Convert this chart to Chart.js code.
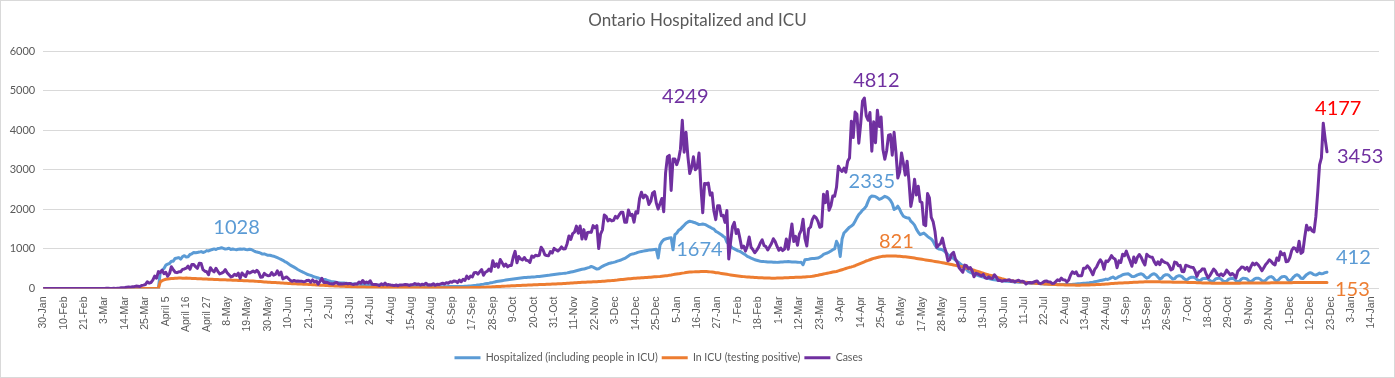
<!DOCTYPE html>
<html>
<head>
<meta charset="utf-8">
<script src="https://cdn.jsdelivr.net/npm/chart.js@4.4.1/dist/chart.umd.min.js"></script>
<style>
html,body{margin:0;padding:0;background:#fff;}
#wrap{width:1395px;height:378px;position:relative;}
canvas{display:block;}
</style>
</head>
<body>
<div id="wrap"><canvas id="c" width="1395" height="378"></canvas></div>
<script>
// Day 0 = 30-Jan-2020, one value per day, last day = 21-Dec-2021 (day 691)
const tickLabels = ["30-Jan","10-Feb","21-Feb","3-Mar","14-Mar","25-Mar","April 5","April 16","April 27","8-May","19-May","30-May","10-Jun","21-Jun","2-Jul","13-Jul","24-Jul","4-Aug","15-Aug","26-Aug","6-Sep","17-Sep","28-Sep","9-Oct","20-Oct","31-Oct","11-Nov","22-Nov","3-Dec","14-Dec","25-Dec","5-Jan","16-Jan","27-Jan","7-Feb","18-Feb","1-Mar","12-Mar","23-Mar","3-Apr","14-Apr","25-Apr","6-May","17-May","28-May","8-Jun","19-Jun","30-Jun","11-Jul","22-Jul","2-Aug","13-Aug","24-Aug","4-Sep","15-Sep","26-Sep","7-Oct","18-Oct","29-Oct","9-Nov","20-Nov","1-Dec","12-Dec","23-Dec","3-Jan","14-Jan"];

const seriesNames = ["Hospitalized (including people in ICU)", "In ICU (testing positive)", "Cases"];

const cases = [
0,0,0,0,0,0,0,0,0,0, 0,0,0,0,0,0,0,0,0,0, 0,0,0,0,0,0,1,0,1,1, 0,
3,2,1,4,6,2,3,5,2,4, 5,17,20,24,32,41,35,44,46,62, 59,48,78,85,100,170,135,151,211,313,260,
426,401,462,375,408,309,379,550,478,411, 401,421,424,483,494,514,565,485,606,606, 551,510,640,634,476,437,424,347,525,459,
421,511,434,370,387,412,477,399,346,294, 308,361,329,388,258,391,340,304,427,390, 413,441,412,460,404,287,292,383,344,323,326,
404,338,356,446,344,415,243,270,292,251, 203,182,203,184,190,181,184,173,178,204, 206,161,216,163,189,111,178,257,154,157,
153,124,121,111,138,154,112,118,116,118, 130,116,129,111,102,116,111,164,135,203, 135,165,138,195,108,104,103,91,76,119,89,
134,88,99,87,83,73,88,70,89,90, 93,102,95,78,95,101,125,102,115,88, 108,97,134,90,95,91,120,82,106,99,117,
132,114,148,132,169,158,190,185,149,213, 170,232,204,313,251,315,293,401,407,365, 425,478,335,409,435,491,435,700,554,625,
538,732,653,566,615,548,580,583,797,939, 649,807,746,721,783,712,704,658,821,790, 841,826,841,1042,978,851,834,827,934,896,1015,
977,948,987,1050,998,1003,1132,1328,1242,1388, 1426,1575,1396,1581,1248,1487,1249,1417,1423,1418, 1588,1534,1589,1009,1373,1478,1855,1822,1708,1746,
1707,1723,1824,1780,1859,1924,1925,1676,1676,1983, 1848,1873,1677,1940,1904,2275,2432,2290,2357,2316, 2123,2202,2408,2447,2159,2005,2142,2275,1939,2923,3328,
3363,2476,3270,3270,3128,3266,3519,4249,3443,3945, 3338,2903,3056,3326,2998,3056,3422,2578,1913,2655, 2632,2662,2359,2417,1958,1740,2093,2093,1837,1848,1670,
1969,745,1172,1563,1670,1388,1489,1265,1022,1072, 945,1076,1300,1042,981,904,964,1038,1150,1228, 1087,1058,975,1054,1138,1258,1185,1062,
966,1023,958,994,1250,990,1299,1631,1185,1316, 1092,1371,1468,1747,1268,1074,1508,1553,1745,1829, 1791,1699,1546,1571,2380,2169,2453,1977,2094,2336,2333,
2557,3089,3009,2958,3041,2938,3215,3295,4227,3813, 4456,4401,3670,4156,4736,4812,4362,4250,4447,3469, 4212,3682,4505,4094,4331,3510,3265,3480,3871,3887,
3369,3947,3436,2791,2941,3424,3166,2864,3216,2716, 2073,2320,2759,2362,2584,2199,2170,1616,1588,2400, 2290,1794,1691,1446,1039,1095,1135,1273,1057,916,699,
733,870,914,744,663,525,469,411,590,574, 502,530,447,296,384,370,345,318,355,270, 255,296,256,255,346,287,200,210,184,200,
200,209,220,184,194,164,194,210,179,186, 166,114,146,153,143,159,176,192,130,127, 150,185,192,170,167,129,132,172,218,196,260,
218,213,164,213,340,423,378,422,325,321, 324,513,510,574,525,440,348,485,545,650, 727,655,486,694,678,740,832,769,738,525,700,
656,865,827,944,810,694,563,797,654,795, 859,786,677,593,864,821,795,787,679,600, 677,604,727,677,653,640,577,470,495,668,
653,577,584,429,426,587,573,553,536,529, 442,306,414,443,496,491,362,271,328,413, 492,442,356,326,370,326,373,463,404,343,378,
340,267,438,482,541,539,482,535,441,551, 642,598,641,599,530,447,525,607,658,727, 683,627,594,769,711,927,855,887,676,687,
780,959,1031,1009,928,1195,887,928,1290,1600, 1476,1536,1453,1429,1808,2421,3124,3301,4177,3784,3453
];

const hospitalized = [
0,0,0,0,0,0,0,0,0,0, 0,0,0,0,0,0,0,0,0,0, 0,0,0,0,0,0,0,0,0,0, 0,0,0,0,0,0,0,0,0,0, 0,0,0,0,0,0,0,0,0,0, 0,0,0,0,0,0,0,0,0,0, 0,0,0,
405,462,506,589,614,632,691,690,760,
769,781,743,807,828,794,803,859,877,910,
902,911,920,932,910,925,957,948,970,986,
1000,986,1010,1018,1028,1014,995,1003,1017,987,
1000,989,980,993,999,990,1001,985,977,994,986,
960,933,920,911,892,869,875,858,837,840,
826,817,800,780,758,735,712,680,660,625,
590,565,540,510,480,455,430,410,385,361,
345,330,310,295,280,265,250,235,230,225,
200,190,180,172,165,155,148,142,140,138,
130,127,125,118,114,112,108,105,102,100,
96,95,92,90,88,86,84,82,80,78,77,
75,73,71,70,68,66,65,63,62,60,58,
57,56,55,54,53,52,51,50,49,48,
47,46,46,45,45,44,44,45,45,46,
46,47,47,48,48,49,49,50,50,51,51,
50,55,58,62,66,71,76,80,88,95,
104,110,118,127,135,146,154,164,177,
185,192,198,205,212,220,226,233,240,246,
252,258,264,270,275,280,285,287,290,292,
296,302,306,310,315,320,326,332,340,346,352,
358,364,370,376,382,388,395,405,415,425,
435,448,460,473,485,490,505,520,535,557,
540,515,490,500,530,560,585,605,625,640,
650,660,672,690,705,720,742,760,790,820,855,
870,880,895,913,925,935,945,955,962,970,
975,980,985,990,770,1100,1180,1234,1250,1265,
1276,1280,980,1360,1400,1470,1500,1550,1600,1650,
1680,1700,1690,1674,1660,1640,1615,1620,1630,1620,
1600,1572,1550,1520,1500,1445,1420,1390,1360,1320,1290,
1167,1120,1070,1023,1000,975,950,938,910,880,
850,811,790,770,750,727,715,700,690,685,
680,678,672,670,668,665,662,660,665,670,
672,675,678,680,676,672,670,668,665,660,662,
600,727,735,740,750,755,760,765,770,790,
820,860,880,896,920,950,980,1000,
1192,1100,811,1250,1403,1450,1500,1550,1580,1615,
1700,1790,1868,1920,1980,2020,2080,2200,2300,2335,
2333,2320,2290,2250,2270,2300,2330,2310,2280,2230,
2150,1995,2020,2080,2000,1900,1826,1800,1784,1784,
1700,1657,1600,1500,1420,1360,1380,1400,1360,1318,
1280,1250,1192,1100,1023,1000,990,980,950,900,854,
820,790,760,720,685,650,610,570,530,480,
431,410,390,370,347,330,315,304,290,275,
260,250,237,228,220,212,205,200,194,190,
186,182,178,174,170,167,164,160,158,155,152,
150,145,140,135,132,130,128,125,120,118,
116,114,112,110,108,106,104,103,102,101,
100,100,101,102,104,106,110,115,118,122,
126,130,135,140,145,152,160,170,180,190,
200,210,220,237,230,250,275,290,
250,270,300,320,347,360,368,
372,340,305,300,320,345,360,
372,350,300,260,280,330,360,
372,345,290,240,260,320,345,
350,330,280,240,250,300,320,
320,300,250,220,230,270,285,
287,270,230,200,210,245,255,
260,245,200,175,190,240,255,
262,240,190,170,185,235,250,
260,245,195,170,190,240,262,
255,240,190,170,200,245,262,
262,240,195,180,210,260,290,
300,275,215,190,220,270,300,
305,285,220,185,230,290,330,
347,320,260,250,300,350,380,
400,380,350,340,360,390,370,
380,400,412
];

const icu = [
0,0,0,0,0,0,0,0,0,0, 0,0,0,0,0,0,0,0,0,0, 0,0,0,0,0,0,0,0,0,0, 0,0,0,0,0,0,0,0,0,0, 0,0,0,0,0,0,0,0,0,0, 0,0,0,0,0,0,0,0,0,0, 0,0,0,
167,196,216,234,240,247,253,255,260,262,
264,263,261,262,265,260,262,255,252,250,
248,247,245,243,240,238,236,234,232,230,
228,226,224,222,220,218,216,214,212,210,
208,206,204,202,200,198,196,194,192,190,
187,184,180,177,174,170,167,164,160,157,
154,152,150,147,144,141,138,135,132,129,
126,123,120,117,115,113,111,109,108,106,
103,100,97,94,91,88,85,82,79,76,
74,72,70,67,64,62,60,58,56,54,
52,50,48,46,44,42,40,38,37,36,
35,34,33,32,31,30,30,29,29,28,28,
28,27,27,26,26,25,25,25,24,24,24,
23,23,23,22,22,22,21,21,21,20,
20,20,19,19,19,18,18,18,18,18,
18,18,18,18,18,18,19,19,19,20,20,
20,21,21,22,23,24,25,26,27,28,
29,31,33,35,38,40,42,45,48,
50,52,55,58,60,62,65,68,70,72,
74,76,78,80,82,84,86,88,90,92,
94,96,98,100,102,104,106,108,110,112,114,
116,118,120,122,125,128,130,133,136,140,
143,146,149,152,155,158,160,162,164,166,
168,170,172,175,178,182,186,190,194,198,
200,205,210,214,220,225,230,236,240,245,248,
252,256,260,263,266,270,272,275,278,282,
286,290,294,298,300,304,310,315,320,325,
333,340,350,360,365,370,380,388,395,405,
410,414,418,420,422,424,426,428,430,430,
428,425,420,415,408,400,395,389,380,372,365,
358,350,342,335,328,322,316,310,305,300,
295,292,290,287,284,280,277,274,272,270,
268,266,264,263,262,262,262,263,264,266,
268,270,272,274,276,278,280,282,284,286,287,
290,293,296,300,304,310,318,326,335,346,
355,365,375,385,395,405,415,425,
431,445,460,475,490,505,520,535,545,558,
575,595,615,635,655,675,695,710,727,745,
760,772,785,795,805,812,815,818,820,821,
821,820,819,817,815,810,805,800,795,790,
782,775,768,760,752,745,738,730,722,715,
708,700,692,684,676,668,660,652,642,633,624,
615,605,595,585,575,565,558,545,532,519,
505,490,476,462,446,431,416,400,385,370,
355,340,330,321,305,290,275,260,245,232,
220,212,205,198,192,186,180,175,170,165,160,
155,150,145,140,136,132,128,124,121,118,
115,112,109,106,103,100,98,96,94,93,
92,91,90,89,88,87,86,85,85,85,
86,87,88,89,90,92,94,96,98,101,
104,107,110,113,116,120,124,128,132,135,138,
140,142,144,146,148,150,152,155,158,160,
162,164,166,168,169,169,170,170,169,169,
168,168,167,166,165,164,163,162,161,160,
160,159,158,157,156,155,154,153,152,152,
150,148,146,144,142,140,138,137,136,135,
134,133,133,132,132,132,131,131,131,132,132,
133,134,135,135,136,136,137,137,138,138,
138,139,139,140,140,140,141,141,142,142,
143,143,144,144,145,145,146,146,147,147,
148,148,149,149,150,150,151,151,152,152,
153,152,153,153,154,154,154,153,153,153,153
];

const DAYS = 692;
if (cases.length !== DAYS) throw new Error('cases length ' + cases.length);
if (hospitalized.length !== DAYS) throw new Error('hospitalized length ' + hospitalized.length);
if (icu.length !== DAYS) throw new Error('icu length ' + icu.length);

const BLUE = '#5B9BD5', ORANGE = '#ED7D31', PURPLE = '#7030A0', RED = '#FF0000', GREY = '#595959';

const toXY = arr => arr.map((v, i) => ({x: i, y: v}));

// value labels: dataset index, day index, text colour, offsets
const valueLabels = [
  {ds: 0, day: 96,  color: BLUE,   align: 'center', dx: 15, dy: -20},
  {ds: 2, day: 344, color: PURPLE, align: 'center', dx: 3,  dy: -24},
  {ds: 0, day: 350, color: BLUE,   align: 'center', dx: 6,  dy: 27},
  {ds: 2, day: 442, color: PURPLE, align: 'center', dx: 12, dy: -17},
  {ds: 0, day: 446, color: BLUE,   align: 'center', dx: 0,  dy: -15},
  {ds: 1, day: 456, color: ORANGE, align: 'center', dx: 6,  dy: -14},
  {ds: 2, day: 689, color: RED,    align: 'center', dx: 15, dy: -15},
  {ds: 2, day: 691, color: PURPLE, align: 'left',   dx: 10, dy: 5},
  {ds: 0, day: 691, color: BLUE,   align: 'left',   dx: 9,  dy: -15},
  {ds: 1, day: 691, color: ORANGE, align: 'left',   dx: 8,  dy: 7}
];
const seriesArrays = [hospitalized, icu, cases];

const framePlugin = {
  id: 'frame',
  beforeDraw(chart) {
    const c = chart.ctx;
    c.save();
    c.fillStyle = '#fff';
    c.fillRect(0, 0, chart.width, chart.height);
    c.restore();
  },
  afterDraw(chart) {
    const c = chart.ctx;
    c.save();
    c.strokeStyle = '#d9d9d9';
    c.lineWidth = 1;
    c.strokeRect(0.5, 0.5, chart.width - 1, chart.height - 1);
    c.restore();
  }
};

const labelPlugin = {
  id: 'valueLabels',
  afterDatasetsDraw(chart) {
    const c = chart.ctx;
    c.save();
    c.font = '20px Lato';
    c.textBaseline = 'middle';
    for (const a of valueLabels) {
      const pt = chart.getDatasetMeta(a.ds).data[a.day];
      c.fillStyle = a.color;
      c.textAlign = a.align;
      c.fillText(String(seriesArrays[a.ds][a.day]), pt.x + a.dx, pt.y + a.dy);
    }
    c.restore();
  }
};

const legendShift = {
  id: 'legendShift',
  afterLayout(chart) {
    const lg = chart.legend;
    if (lg) { lg.left -= 39; lg.right -= 39; }
  }
};

const lineDs = (label, data, color, order) => ({
  label, data: toXY(data), borderColor: color, backgroundColor: color,
  borderWidth: 3, pointRadius: 0, tension: 0, order,
  borderJoinStyle: 'round', borderCapStyle: 'round'
});

new Chart(document.getElementById('c'), {
  type: 'line',
  data: {
    datasets: [
      lineDs(seriesNames[0], hospitalized, BLUE, 3),
      lineDs(seriesNames[1], icu, ORANGE, 2),
      lineDs(seriesNames[2], cases, PURPLE, 1)
    ]
  },
  options: {
    responsive: false,
    animation: false,
    devicePixelRatio: 1,
    layout: {padding: {left: 0, right: 0, top: 0, bottom: 5}},
    plugins: {
      tooltip: {enabled: false},
      title: {
        display: true,
        text: 'Ontario Hospitalized and ICU',
        color: GREY,
        font: {family: 'Lato', size: 17, weight: 'normal', lineHeight: 1.2},
        padding: {top: 10, bottom: 20.6}
      },
      legend: {
        position: 'bottom',
        labels: {
          color: GREY,
          font: {family: 'Lato', size: 10.5},
          usePointStyle: true,
          pointStyle: 'line',
          pointStyleWidth: 26,
          padding: 4,
          sort: (a, b) => a.datasetIndex - b.datasetIndex
        }
      }
    },
    scales: {
      x: {
        type: 'linear',
        min: 0,
        max: 719,
        afterBuildTicks: s => { s.ticks = tickLabels.map((_, i) => ({value: i * 11})); },
        afterFit: s => { s.height = 60; },
        grid: {display: false, drawTicks: false},
        border: {display: false},
        ticks: {
          autoSkip: false,
          minRotation: 90,
          maxRotation: 90,
          padding: 8,
          color: GREY,
          font: {family: 'Liberation Sans', size: 10.5},
          callback: v => tickLabels[Math.round(v / 11)]
        }
      },
      y: {
        min: 0,
        max: 6000,
        afterFit: s => { s.width = 43.2; },
        grid: {color: '#d9d9d9', lineWidth: 1, drawTicks: false},
        border: {display: false},
        ticks: {
          stepSize: 1000,
          padding: 8,
          color: GREY,
          font: {family: 'Lato', size: 11},
          callback: v => String(v)
        }
      },
      yRight: {
        position: 'right',
        display: true,
        afterFit: s => { s.width = 16; },
        grid: {display: false, drawTicks: false},
        border: {display: false},
        ticks: {display: false}
      }
    }
  },
  plugins: [framePlugin, labelPlugin, legendShift]
});
</script>
</body>
</html>
